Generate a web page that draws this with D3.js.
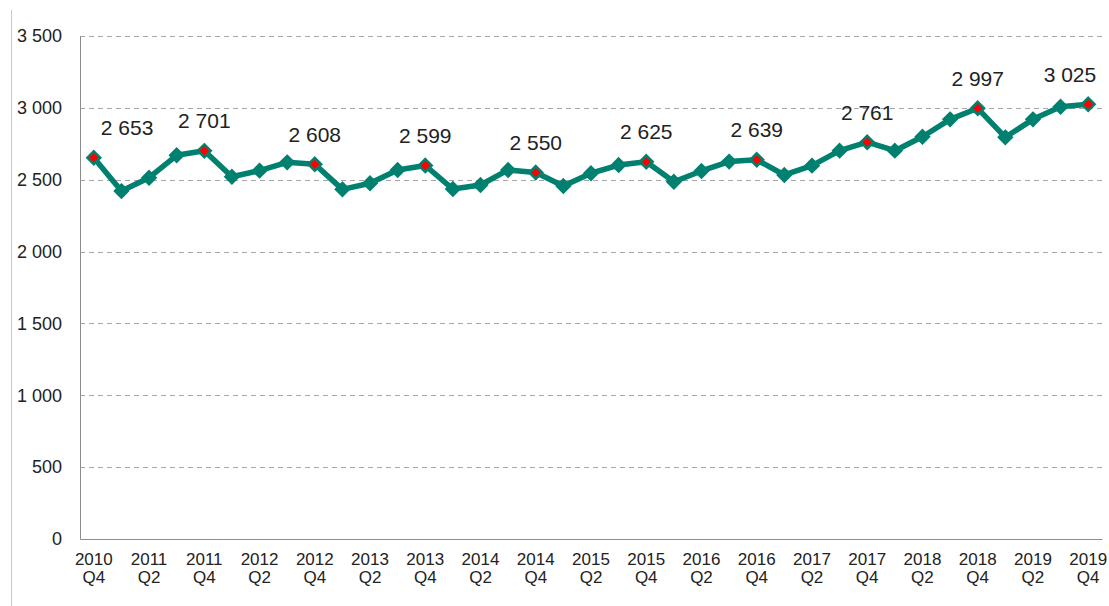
<!DOCTYPE html>
<html>
<head>
<meta charset="utf-8">
<script src="https://cdn.jsdelivr.net/npm/d3@7"></script>
<style>
  body { margin: 0; background: #fff; }
  svg { display: block; font-family: "Liberation Sans", Arial, sans-serif; }
</style>
</head>
<body>
<div id="chart"></div>
<script>
// quarters, 2010 Q4 .. 2019 Q4
const quarters = [
  "2010 Q4", "2011 Q1", "2011 Q2", "2011 Q3", "2011 Q4",
  "2012 Q1", "2012 Q2", "2012 Q3", "2012 Q4",
  "2013 Q1", "2013 Q2", "2013 Q3", "2013 Q4",
  "2014 Q1", "2014 Q2", "2014 Q3", "2014 Q4",
  "2015 Q1", "2015 Q2", "2015 Q3", "2015 Q4",
  "2016 Q1", "2016 Q2", "2016 Q3", "2016 Q4",
  "2017 Q1", "2017 Q2", "2017 Q3", "2017 Q4",
  "2018 Q1", "2018 Q2", "2018 Q3", "2018 Q4",
  "2019 Q1", "2019 Q2", "2019 Q3", "2019 Q4"
];
const values = [
  2653, 2421, 2514, 2670, 2701,
  2521, 2563, 2621, 2608,
  2433, 2475, 2568, 2599,
  2435, 2463, 2568, 2550,
  2456, 2545, 2602, 2625,
  2486, 2561, 2626, 2639,
  2533, 2598, 2702, 2761,
  2702, 2799, 2920, 2997,
  2795, 2920, 3008, 3025
];
const yTicks = [0, 500, 1000, 1500, 2000, 2500, 3000, 3500];

const width = 1109, height = 606;
const margin = { top: 36, right: 7, bottom: 67, left: 80 };
const innerW = width - margin.left - margin.right;
const innerH = height - margin.top - margin.bottom;

const data = quarters.map((q, i) => ({ q, v: values[i], q4: q.endsWith("Q4") }));

const svg = d3.select("#chart").append("svg")
  .attr("width", width)
  .attr("height", height);

// outer frame line on the left
svg.append("line")
  .attr("x1", 11.5).attr("x2", 11.5)
  .attr("y1", 10).attr("y2", height)
  .attr("stroke", "#c8c8c8");

const g = svg.append("g").attr("transform", `translate(${margin.left},${margin.top})`);

const x = d3.scaleBand().domain(quarters).range([0, innerW]);
const y = d3.scaleLinear().domain([0, 3500]).range([innerH, 0]);
const cx = d => x(d.q) + x.bandwidth() / 2;

// gridlines
g.append("g")
  .selectAll("line")
  .data(yTicks.filter(t => t > 0))
  .join("line")
  .attr("x1", 0).attr("x2", innerW)
  .attr("y1", d => Math.round(y(d)) + 0.5).attr("y2", d => Math.round(y(d)) + 0.5)
  .attr("stroke", "#a6a6a6")
  .attr("stroke-dasharray", "5,4");

// y axis
const yAxis = g.append("g")
  .call(d3.axisLeft(y).tickValues(yTicks).tickSize(0).tickPadding(18)
    .tickFormat(d => d3.format(",")(d).replace(/,/g, " ")));
yAxis.select(".domain").attr("stroke", "#8c8c8c");
yAxis.selectAll("text").attr("font-size", 18).attr("fill", "#222");

// x axis
const xAxis = g.append("g")
  .attr("transform", `translate(0,${innerH})`)
  .call(d3.axisBottom(x).tickSize(0).tickFormat(""));
xAxis.select(".domain").attr("stroke", "#8c8c8c");

const labels = g.append("g").attr("font-size", 17).attr("fill", "#222").attr("text-anchor", "middle");
data.forEach((d, i) => {
  if ((quarters.length - 1 - i) % 2 !== 0) return;
  const parts = d.q.split(" ");
  const t = labels.append("text").attr("transform", `translate(${cx(d)},${innerH})`);
  t.append("tspan").attr("x", 0).attr("y", 26).text(parts[0]);
  t.append("tspan").attr("x", 0).attr("y", 44).text(parts[1]);
});

// line
const teal = "#00806f";
g.append("path")
  .datum(data)
  .attr("fill", "none")
  .attr("stroke", teal)
  .attr("stroke-width", 5.5)
  .attr("stroke-linejoin", "round")
  .attr("d", d3.line().x(cx).y(d => y(d.v)));

// markers
const diamond = d3.symbol().type(d3.symbolDiamond2);
g.append("g")
  .selectAll("path")
  .data(data)
  .join("path")
  .attr("transform", d => `translate(${cx(d)},${y(d.v)})`)
  .attr("d", diamond.size(105)())
  .attr("fill", d => d.q4 ? "#ff0000" : teal)
  .attr("stroke", teal)
  .attr("stroke-width", 2.5)
  .attr("stroke-linejoin", "miter");

// value labels for Q4
const fmt = v => d3.format(",")(v).replace(/,/g, " ");
const q4 = data.filter(d => d.q4);
g.append("g")
  .attr("font-size", 21)
  .attr("fill", "#222")
  .selectAll("text")
  .data(q4)
  .join("text")
  .attr("x", (d, i) => i === 0 ? cx(d) + 7 : i === q4.length - 1 ? cx(d) + 8 : cx(d))
  .attr("y", d => y(d.v) - 30)
  .attr("dy", "0.35em")
  .attr("text-anchor", (d, i) => i === 0 ? "start" : i === q4.length - 1 ? "end" : "middle")
  .text(d => fmt(d.v));
</script>
</body>
</html>
